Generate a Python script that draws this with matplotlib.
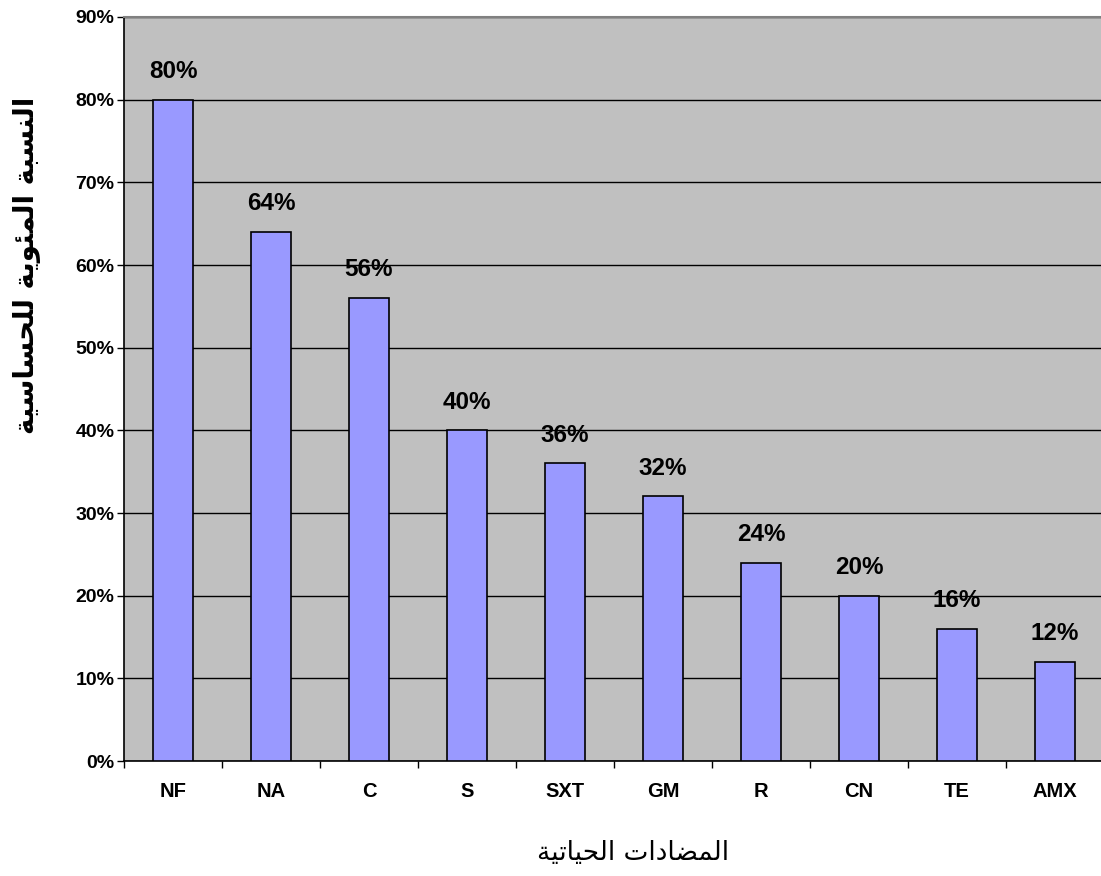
import matplotlib as mpl
mpl.use('Agg')
import matplotlib.pyplot as plt
import numpy as np

# data
categories = ['NF', 'NA', 'C', 'S', 'SXT', 'GM', 'R', 'CN', 'TE', 'AMX']
values = [80, 64, 56, 40, 36, 32, 24, 20, 16, 12]
yticks = [0, 10, 20, 30, 40, 50, 60, 70, 80, 90]

ylabel_text = 'النسبة المئوية للحساسية'
xlabel_text = 'المضادات الحياتية'

# minimal arabic shaping (matplotlib has no shaping / bidi)
# letter: (isolated, final, initial, medial) ; None = does not join to next
FORMS = {
    'ا': ('\uFE8D', '\uFE8E', None, None),
    'ب': ('\uFE8F', '\uFE90', '\uFE91', '\uFE92'),
    'ة': ('\uFE93', '\uFE94', None, None),
    'ت': ('\uFE95', '\uFE96', '\uFE97', '\uFE98'),
    'ح': ('\uFEA1', '\uFEA2', '\uFEA3', '\uFEA4'),
    'د': ('\uFEA9', '\uFEAA', None, None),
    'س': ('\uFEB1', '\uFEB2', '\uFEB3', '\uFEB4'),
    'ض': ('\uFEBD', '\uFEBE', '\uFEBF', '\uFEC0'),
    'ل': ('\uFEDD', '\uFEDE', '\uFEDF', '\uFEE0'),
    'م': ('\uFEE1', '\uFEE2', '\uFEE3', '\uFEE4'),
    'ن': ('\uFEE5', '\uFEE6', '\uFEE7', '\uFEE8'),
    'و': ('\uFEED', '\uFEEE', None, None),
    'ي': ('\uFEF1', '\uFEF2', '\uFEF3', '\uFEF4'),
    'ئ': ('\uFE89', '\uFE8A', '\uFE8B', '\uFE8C'),
    'لا': ('\uFEFB', '\uFEFC', None, None),
}


def shape_arabic(text):
    out = []
    for word in text.split(' '):
        # merge lam-alef
        letters = []
        i = 0
        while i < len(word):
            if word[i] == 'ل' and i + 1 < len(word) and word[i + 1] == 'ا':
                letters.append('لا')
                i += 2
            else:
                letters.append(word[i])
                i += 1
        shaped = []
        for k, ch in enumerate(letters):
            f = FORMS[ch]
            prev_joins = k > 0 and FORMS[letters[k - 1]][2] is not None
            next_ok = k + 1 < len(letters) and f[2] is not None
            if prev_joins and next_ok:
                shaped.append(f[3])
            elif prev_joins:
                shaped.append(f[1])
            elif next_ok:
                shaped.append(f[2])
            else:
                shaped.append(f[0])
        out.append(''.join(shaped))
    return ' '.join(out)[::-1]


W, H = 1101, 876
fig = plt.figure(figsize=(W / 100, H / 100), dpi=100)
# axes runs a little past the right edge, like the reference
ax = fig.add_axes([124 / W, (H - 761) / H, 980 / W, 744 / H])
ax.set_facecolor('#C0C0C0')

x = np.arange(len(categories))
bars = ax.bar(x, values, width=0.41, color='#9999FF', edgecolor='black',
              linewidth=1.2, zorder=3)

ax.set_xlim(-0.5, len(categories) - 0.5)
ax.set_ylim(0, 90)
ax.set_yticks(yticks)
ax.set_yticklabels([f'{v}%' for v in yticks])
ax.yaxis.grid(True, color='black', linewidth=1.0, zorder=1)
ax.set_axisbelow(True)

ax.set_xticks(x)
ax.set_xticklabels(categories)
ax.set_xticks(np.arange(len(categories) + 1) - 0.5, minor=True)
ax.tick_params(axis='x', which='major', length=0, pad=15)
ax.tick_params(axis='x', which='minor', length=5, width=1)
ax.tick_params(axis='y', length=5, width=1, pad=2)

for lab in ax.get_xticklabels():
    lab.set_fontfamily('Liberation Sans')
    lab.set_fontweight('bold')
    lab.set_fontsize(14.5)
for lab in ax.get_yticklabels():
    lab.set_fontfamily('Liberation Sans')
    lab.set_fontweight('bold')
    lab.set_fontsize(14)

for b, v in zip(bars, values):
    ax.annotate(f'{v}%', (b.get_x() + b.get_width() / 2, v),
                xytext=(0, 12), textcoords='offset points',
                ha='center', va='bottom', fontsize=17.5, fontweight='bold',
                family='Liberation Sans')

ax.spines['top'].set_color('#808080')
ax.spines['top'].set_linewidth(1.5)
for s in ['left', 'bottom']:
    ax.spines[s].set_color('black')
    ax.spines[s].set_linewidth(1.2)

fig.text(27 / W, 1 - 265 / H, shape_arabic(ylabel_text), rotation=90,
         ha='center', va='center', fontsize=20, fontweight='bold',
         family='DejaVu Sans')
fig.text(633 / W, 1 - 853 / H, shape_arabic(xlabel_text),
         ha='center', va='center', fontsize=19, family='DejaVu Sans')

fig.savefig('out.png', dpi=100)
